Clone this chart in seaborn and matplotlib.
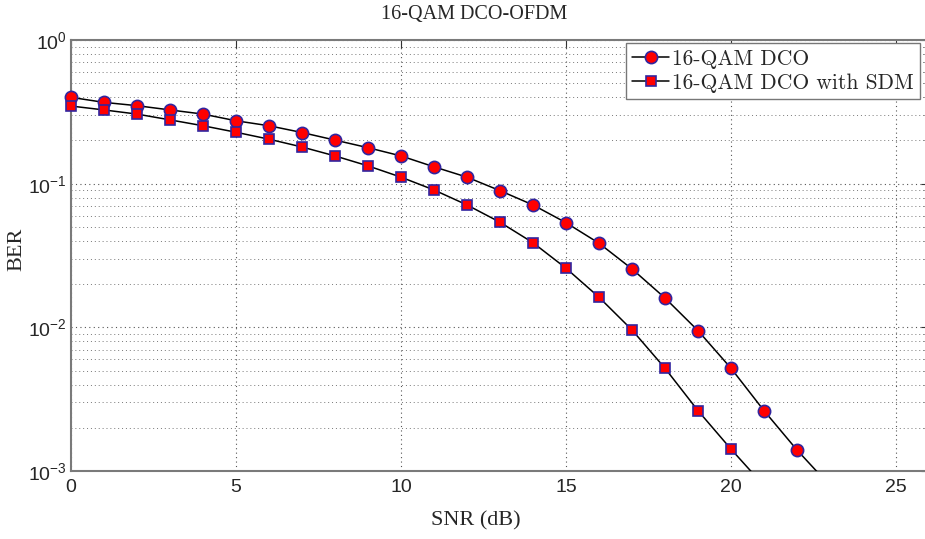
import matplotlib
matplotlib.use("Agg")
import matplotlib.pyplot as plt
import seaborn as sns
import pandas as pd
import numpy as np
from matplotlib.ticker import FixedLocator, FixedFormatter, LogLocator, NullFormatter
from matplotlib.transforms import Bbox, TransformedBbox

# ---- data ----
snr_dco = [0, 1, 2, 3, 4, 5, 6, 7, 8, 9, 10, 11, 12, 13, 14, 15, 16, 17, 18, 19, 20, 21, 22, 23]
ber_dco = [0.399, 0.368, 0.349, 0.326, 0.305, 0.274, 0.253, 0.227, 0.201, 0.178, 0.156, 0.131,
           0.111, 0.0894, 0.0711, 0.0535, 0.0385, 0.0255, 0.0160, 0.00948, 0.00519, 0.00263,
           0.00140, 0.00079]
snr_sdm = [0, 1, 2, 3, 4, 5, 6, 7, 8, 9, 10, 11, 12, 13, 14, 15, 16, 17, 18, 19, 20, 21]
ber_sdm = [0.347, 0.326, 0.305, 0.278, 0.253, 0.228, 0.204, 0.180, 0.156, 0.133, 0.111, 0.0904,
           0.0711, 0.0539, 0.0388, 0.0258, 0.0162, 0.00959, 0.00519, 0.00263, 0.00142, 0.00079]
labels = ["16-QAM DCO", "16-QAM DCO with SDM"]
markers = ["o", "s"]
x_ticks = [0, 5, 10, 15, 20, 25]
y_ticks = [1e-3, 1e-2, 1e-1, 1e0]
y_ticklabels = [r"$\mathregular{10^{-3}}$", r"$\mathregular{10^{-2}}$",
                r"$\mathregular{10^{-1}}$", r"$\mathregular{10^{0}}$"]
title = "16-QAM DCO-OFDM"
xlabel = "SNR (dB)"
ylabel = "BER"

df1 = pd.DataFrame({"snr": snr_dco, "ber": ber_dco})
df2 = pd.DataFrame({"snr": snr_sdm, "ber": ber_sdm})

sns.set_style("white")
plt.rcParams["font.family"] = ["Liberation Serif", "DejaVu Serif"]

fig = plt.figure(figsize=(9.25, 5.39), dpi=100)
ax = fig.add_axes([71 / 925, 1 - 471 / 539, (929 - 71) / 925, (471 - 40) / 539])

common = dict(color="black", linewidth=1.1, markerfacecolor="#ff0000",
              markeredgecolor="#32259f", markeredgewidth=1.2, legend=False, ax=ax)
sns.lineplot(data=df1, x="snr", y="ber", marker=markers[0], markersize=8.8, **common)
sns.lineplot(data=df2, x="snr", y="ber", marker=markers[1], markersize=7.8, **common)

# markers at x=0 drawn over the left spine (as in the reference), bottom still clipped
clip = TransformedBbox(Bbox([[-0.03, 0.0], [1.0, 1.05]]), ax.transAxes)
for ln in ax.lines:
    ln.set_clip_box(clip)
    ln.set_zorder(3)

ax.set_yscale("log")
ax.set_xlim(0, 26)
ax.set_ylim(1e-3, 1)

ax.xaxis.set_major_locator(FixedLocator(x_ticks))
ax.yaxis.set_major_locator(FixedLocator(y_ticks))
ax.yaxis.set_major_formatter(FixedFormatter(y_ticklabels))
ax.yaxis.set_minor_locator(LogLocator(base=10, subs=np.arange(2, 10)))
ax.yaxis.set_minor_formatter(NullFormatter())

for lab in ax.get_xticklabels() + ax.get_yticklabels():
    lab.set_fontfamily("Liberation Sans")
    lab.set_fontsize(14)

ax.tick_params(axis="both", which="both", direction="in", top=True, right=True,
               color="#333333")
ax.tick_params(axis="both", which="major", length=6, width=0.8)
ax.tick_params(axis="y", which="minor", length=3.5, width=0.6)
ax.tick_params(axis="x", which="major", pad=6)
ax.tick_params(axis="y", which="major", pad=3)

ax.grid(True, which="major", axis="both", linestyle=(0, (1, 3)), color="#555555", linewidth=0.8)
ax.grid(True, which="minor", axis="y", linestyle=(0, (1, 3)), color="#777777", linewidth=0.7)
ax.set_axisbelow(True)

for s in ax.spines.values():
    s.set_color("#7a7a7a")
    s.set_linewidth(1.5)
    s.set_zorder(2.5)

ax.set_xlabel(xlabel, fontsize=16, family="Liberation Serif")
ax.set_ylabel(ylabel, fontsize=16, family="Liberation Serif")
ax.xaxis.set_label_coords((476 - 71) / 858, (471 - 521) / 431)
ax.yaxis.set_label_coords((17 - 71) / 858, (471 - 249) / 431)
ax.xaxis.label.set_va("center")
ax.yaxis.label.set_va("center")
fig.text(474 / 925, 1 - 14 / 539, title, ha="center", va="center", fontsize=14.5,
         family="Liberation Serif")

leg = ax.legend(handles=ax.lines[:2], labels=labels, loc="upper right",
                bbox_to_anchor=(920 / 925, 1 - 43 / 539), bbox_transform=fig.transFigure,
                borderaxespad=0, prop={"family": "cmr10", "size": 15.5}, frameon=True,
                fancybox=False, framealpha=1, edgecolor="#777777", handlelength=1.7,
                handletextpad=0.15, labelspacing=0.22, borderpad=0.28, numpoints=1)
leg.get_frame().set_linewidth(1.0)
leg.set_zorder(5)

fig.savefig("out.png", dpi=100)
